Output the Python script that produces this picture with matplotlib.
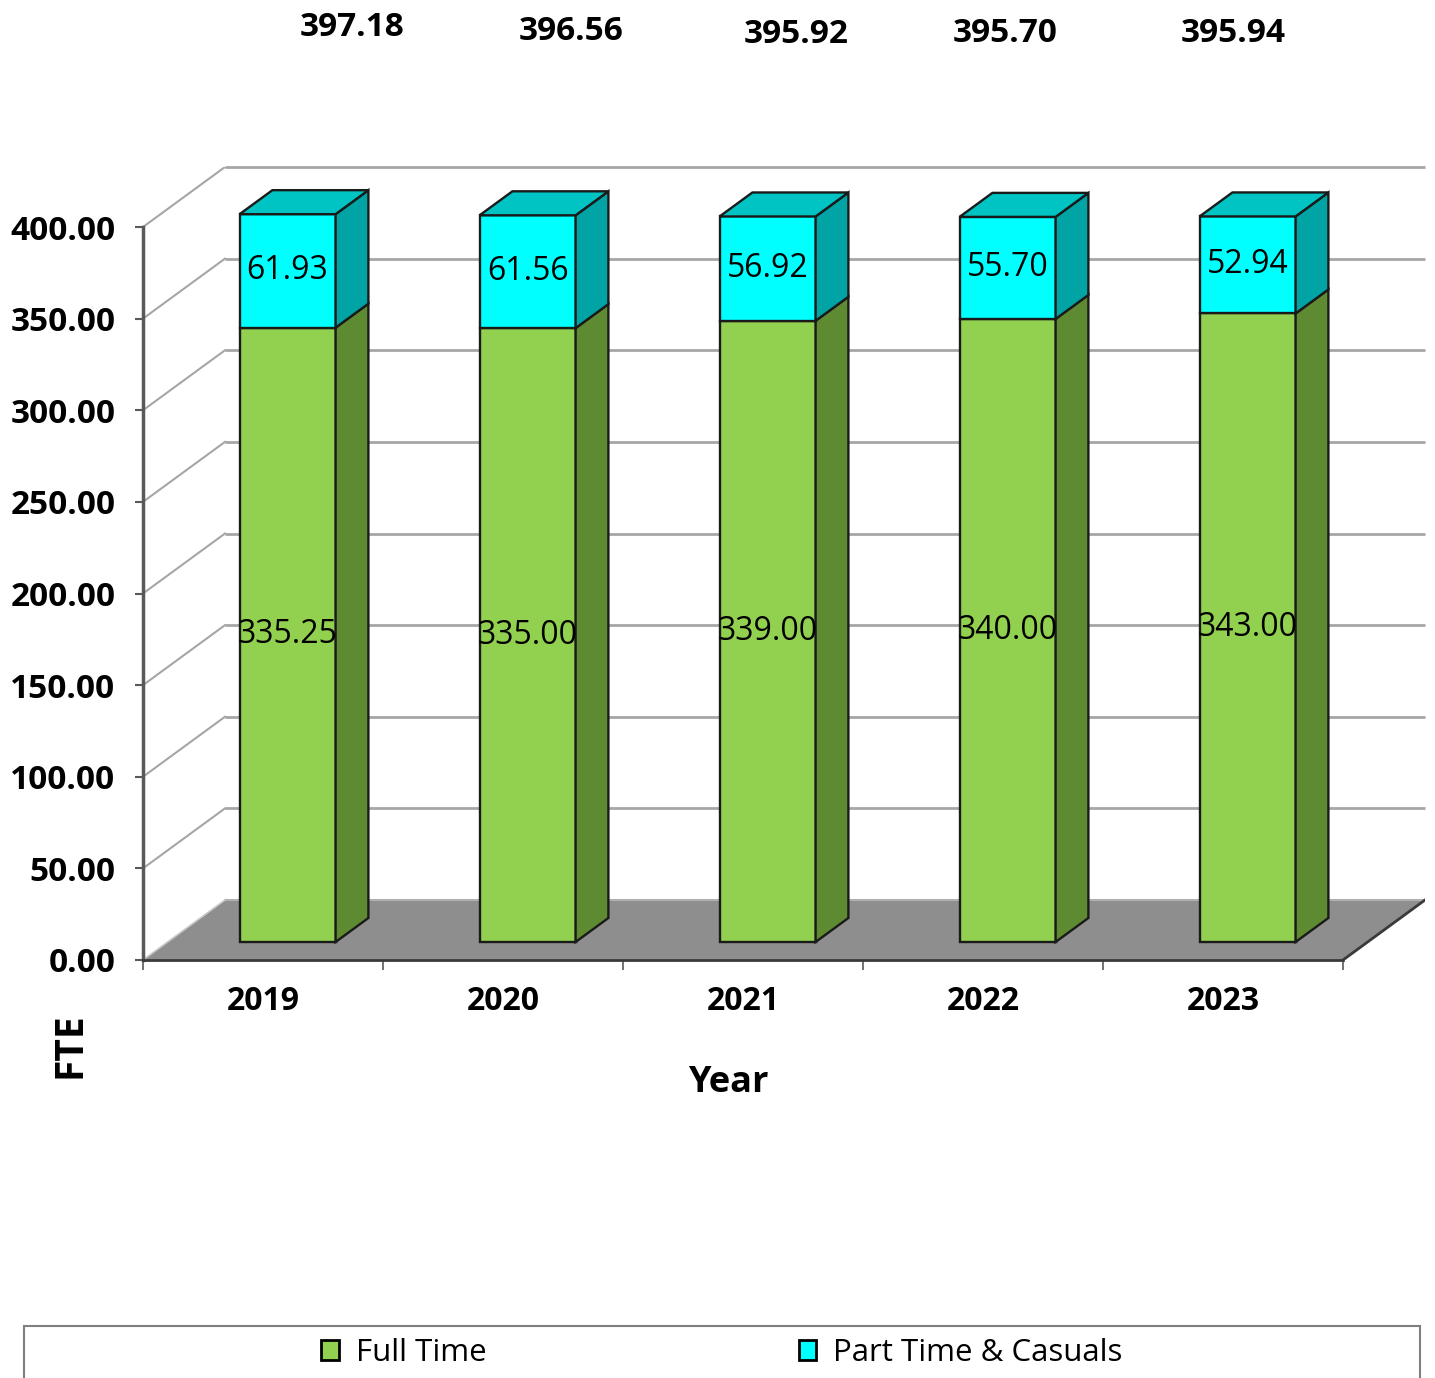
import matplotlib.pyplot as plt
from matplotlib.patches import Polygon, Rectangle
import numpy as np

years = ['2019', '2020', '2021', '2022', '2023']
full_time = [335.25, 335.00, 339.00, 340.00, 343.00]
part_time = [61.93, 61.56, 56.92, 55.70, 52.94]
y_ticks = [0, 50, 100, 150, 200, 250, 300, 350, 400]

# offsets (px) of the total labels printed above the chart
total_nudge = [64, 43, 29, -2, -14]
total_lift = [187, 184, 182, 183, 183]

series = [('Full Time', full_time, '#92D050', '#5E8A32', '#7DB542'),
          ('Part Time & Casuals', part_time, '#00FFFF', '#00A4A4', '#00C4C4')]

plt.rcParams['font.family'] = ['Open Sans', 'DejaVu Sans']

W, H, DPI = 1435, 1378, 100
fig = plt.figure(figsize=(W / DPI, H / DPI), dpi=DPI)

# axes placed so the front plane spans the category slots
ax_l, ax_r, ax_b, ax_t = 143, 1425, 960, 167
ax = fig.add_axes([ax_l / W, 1 - ax_b / H, (ax_r - ax_l) / W, (ax_b - ax_t) / H])
px_per_cat = 240.0
px_per_val = 733.0 / 400.0
xmax = (ax_r - ax_l) / px_per_cat - 0.5
ymax = (ax_b - ax_t) / px_per_val
ax.set_xlim(-0.5, xmax)
ax.set_ylim(0, ymax)

# oblique depth of the chart box, in data units
DX = 82 / px_per_cat
DY = 60 / px_per_val
n = len(years)
grid_c = '#A6A6A6'

# floor
floor = Polygon([(-0.5, 0), (n - 0.5, 0), (n - 0.5 + DX, DY), (-0.5 + DX, DY)],
                closed=True, fc='#8E8E8E', ec='none', zorder=1)
ax.add_patch(floor)
ax.plot([n - 0.5, n - 0.5 + DX], [0, DY], color='#3A3A3A', lw=2, zorder=2)
ax.plot([-0.5 + DX, n - 0.5 + DX], [DY, DY], color='#B0B0B0', lw=1.5, zorder=1.5)

# gridlines on the back and left walls
for v in y_ticks[1:]:
    ax.plot([-0.5 + DX, xmax], [v + DY, v + DY], color=grid_c, lw=2, zorder=1,
            clip_on=False, solid_capstyle='butt')
    ax.plot([-0.5, -0.5 + DX], [v, v + DY], color=grid_c, lw=1.5, zorder=1)
ax.plot([-0.5, -0.5 + DX], [0, DY], color='#C8C8C8', lw=1.2, zorder=1.5)

# bars sit between 30% and 70% of the depth
d0, d1 = 0.3, 0.7
bw = 0.4
x = np.arange(n) + d0 * DX
bdx, bdy = (d1 - d0) * DX, (d1 - d0) * DY
edge = '#1A1A1A'

bottom = np.zeros(n) + d0 * DY
handles = []
for k, (name, vals, c_front, c_side, c_top) in enumerate(series):
    vals = np.array(vals)
    bars = ax.bar(x, vals, width=bw, bottom=bottom, color=c_front,
                  edgecolor=edge, linewidth=1.7, zorder=3, label=name)
    handles.append(bars)
    for i in range(n):
        x1 = x[i] + bw / 2
        x0 = x[i] - bw / 2
        b = bottom[i]
        t = bottom[i] + vals[i]
        side = Polygon([(x1, b), (x1 + bdx, b + bdy), (x1 + bdx, t + bdy), (x1, t)],
                       closed=True, fc=c_side, ec=edge, lw=1.7, zorder=3)
        ax.add_patch(side)
        if k == len(series) - 1:
            top = Polygon([(x0, t), (x1, t), (x1 + bdx, t + bdy), (x0 + bdx, t + bdy)],
                          closed=True, fc=c_top, ec=edge, lw=1.7, zorder=3)
            ax.add_patch(top)
        ax.text(x[i], b + vals[i] / 2, f'{vals[i]:.2f}', ha='center', va='center',
                fontsize=23, color='black', zorder=4)
    bottom = bottom + vals

# totals above the chart
totals = np.array(full_time) + np.array(part_time)
for i in range(n):
    ax.annotate(f'{totals[i]:.2f}', xy=(x[i], bottom[i]),
                xytext=(total_nudge[i] * 0.72, total_lift[i] * 0.72),
                textcoords='offset points', ha='center', va='center',
                fontsize=24, fontweight='bold', annotation_clip=False)

# axes styling
for s in ['top', 'right']:
    ax.spines[s].set_visible(False)
ax.spines['left'].set_bounds(0, 400)
ax.spines['left'].set_color('#595959')
ax.spines['left'].set_linewidth(2.5)
ax.spines['bottom'].set_bounds(-0.5, n - 0.5)
ax.spines['bottom'].set_color('#3A3A3A')
ax.spines['bottom'].set_linewidth(2)
ax.spines['left'].set_zorder(2)
ax.spines['bottom'].set_zorder(2)

ax.set_yticks(y_ticks)
ax.set_yticklabels([f'{v:.2f}' for v in y_ticks], fontsize=24, fontweight='bold')
ax.tick_params(axis='y', length=6, width=1.5, color='#595959', pad=14)

ax.set_xticks(np.arange(n + 1) - 0.5)
ax.set_xticklabels([])
ax.set_xticks(np.arange(n), minor=True)
ax.set_xticklabels(years, minor=True, fontsize=23, fontweight='bold')
ax.tick_params(axis='x', which='major', length=7, width=1.2, color='#595959')
ax.tick_params(axis='x', which='minor', length=0, pad=18)

fig.text(70 / W, 1 - 1045 / H, 'FTE', rotation=90, ha='center', va='center',
         fontsize=28, fontweight='bold')
fig.text(728 / W, 1 - 1083 / H, 'Year', ha='center', va='center',
         fontsize=26, fontweight='bold')

# legend box running off the bottom edge
fig.patches.append(Rectangle((24 / W, -0.02), (1420 - 24) / W, 0.02 + (H - 1326) / H,
                             transform=fig.transFigure, fill=False, ec='#7F7F7F', lw=1.5))
leg = fig.legend(handles=handles, loc='center', bbox_to_anchor=(722 / W, 1 - 1353 / H),
                 ncol=2, frameon=False, fontsize=22.5, handlelength=0.55, handleheight=0.6,
                 handletextpad=0.55, columnspacing=10.0)
for h in leg.legend_handles:
    h.set_edgecolor('black')
    h.set_linewidth(2)

fig.savefig('out.png', dpi=DPI)
